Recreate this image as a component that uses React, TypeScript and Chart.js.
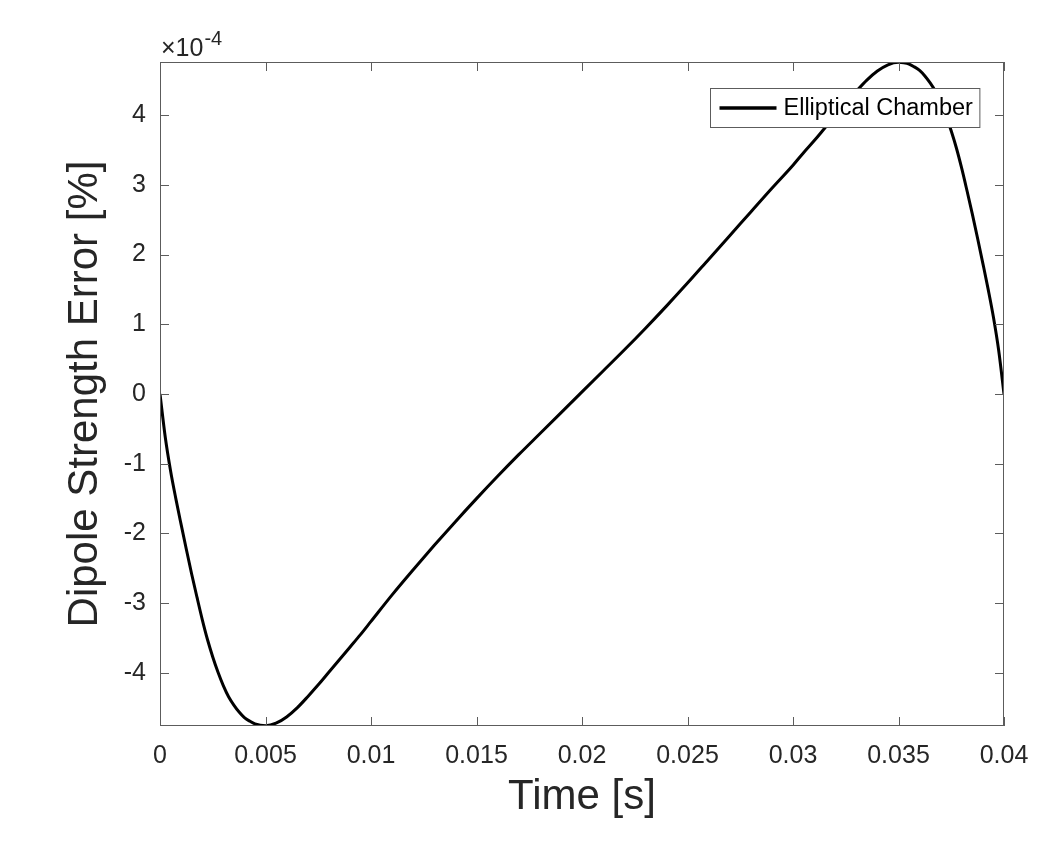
import React, { useEffect, useRef } from 'react';
import { Chart, registerables } from 'chart.js';

Chart.register(...registerables);

// ---- data (time in seconds, error in units of 1e-4 %) ----
const TIME_S = [
  0, 0.00025, 0.0005, 0.00075, 0.001, 0.00125, 0.0015, 0.00175, 0.002, 0.00225,
  0.0025, 0.00275, 0.003, 0.00325, 0.0035, 0.00375, 0.004, 0.00425, 0.0045, 0.00475,
  0.005, 0.0055, 0.006, 0.0065, 0.007, 0.0075, 0.008, 0.0085, 0.009, 0.0095,
  0.01, 0.011, 0.012, 0.013, 0.014, 0.015, 0.016, 0.017, 0.018, 0.019,
  0.02, 0.021, 0.022, 0.023, 0.024, 0.025, 0.026, 0.027, 0.028, 0.029,
  0.03, 0.0305, 0.031, 0.0315, 0.032, 0.0325, 0.033, 0.0335, 0.034, 0.0345,
  0.035, 0.03525, 0.0355, 0.03575, 0.036, 0.03625, 0.0365, 0.03675, 0.037, 0.03725,
  0.0375, 0.03775, 0.038, 0.03825, 0.0385, 0.03875, 0.039, 0.03925, 0.0395, 0.03975,
  0.04,
];
const ERROR_E4 = [
  0, -0.62, -1.1, -1.5, -1.87, -2.23, -2.58, -2.91, -3.23, -3.52,
  -3.77, -3.99, -4.18, -4.34, -4.46, -4.56, -4.64, -4.69, -4.73, -4.748,
  -4.755, -4.72, -4.63, -4.5, -4.34, -4.17, -3.99, -3.81, -3.63, -3.45,
  -3.26, -2.88, -2.52, -2.17, -1.83, -1.5, -1.18, -0.87, -0.57, -0.27,
  0.03, 0.33, 0.63, 0.94, 1.26, 1.59, 1.93, 2.27, 2.61, 2.95,
  3.28, 3.46, 3.63, 3.81, 3.99, 4.17, 4.34, 4.5, 4.63, 4.72,
  4.755, 4.748, 4.73, 4.69, 4.64, 4.56, 4.46, 4.34, 4.18, 3.99,
  3.77, 3.52, 3.23, 2.91, 2.58, 2.23, 1.87, 1.5, 1.1, 0.62,
  0,
];

const X_TICKS = [0, 0.005, 0.01, 0.015, 0.02, 0.025, 0.03, 0.035, 0.04];
const X_TICK_LABELS = ['0', '0.005', '0.01', '0.015', '0.02', '0.025', '0.03', '0.035', '0.04'];
const Y_TICKS = [-4, -3, -2, -1, 0, 1, 2, 3, 4];
const Y_TICK_LABELS = ['-4', '-3', '-2', '-1', '0', '1', '2', '3', '4'];
const X_MIN = 0;
const X_MAX = 0.04;
const Y_MIN = -4.76;
const Y_MAX = 4.76;
const EXPONENT = '-4';
const SERIES_LABEL = 'Elliptical Chamber';
const X_TITLE = 'Time [s]';
const Y_TITLE = 'Dipole Strength Error [%]';

const FONT = '"Liberation Sans", Arial, Helvetica, sans-serif';
const AXIS_COLOR = '#5c5c5c';
const TEXT_COLOR = '#262626';

const framePlugin = {
  id: 'matlabFrame',
  afterDatasetsDraw(chart: any) {
    const { ctx, chartArea: a, scales } = chart;
    const x = scales.x;
    const y = scales.y;
    ctx.save();
    ctx.strokeStyle = AXIS_COLOR;
    ctx.lineWidth = 1;
    ctx.strokeRect(a.left + 0.5, a.top + 0.5, a.right - a.left - 1, a.bottom - a.top - 1);
    const L = 9;
    ctx.beginPath();
    x.ticks.forEach((t: any) => {
      const px = Math.round(x.getPixelForValue(t.value)) + 0.5;
      ctx.moveTo(px, a.bottom);
      ctx.lineTo(px, a.bottom - L);
      ctx.moveTo(px, a.top);
      ctx.lineTo(px, a.top + L);
    });
    y.ticks.forEach((t: any) => {
      const py = Math.round(y.getPixelForValue(t.value)) + 0.5;
      ctx.moveTo(a.left, py);
      ctx.lineTo(a.left + L, py);
      ctx.moveTo(a.right, py);
      ctx.lineTo(a.right - L, py);
    });
    ctx.stroke();

    // exponent label
    ctx.fillStyle = TEXT_COLOR;
    ctx.textBaseline = 'alphabetic';
    ctx.textAlign = 'left';
    ctx.font = `25px ${FONT}`;
    const base = '\u00d710';
    ctx.fillText(base, a.left + 1, a.top - 6);
    const w = ctx.measureText(base).width;
    ctx.font = `20px ${FONT}`;
    ctx.fillText(EXPONENT, a.left + 1 + w + 1, a.top - 17);
    ctx.restore();
  },
  afterDraw(chart: any) {
    const { ctx, chartArea: a } = chart;
    const ds = chart.data.datasets[0];
    ctx.save();
    ctx.font = `23.5px ${FONT}`;
    const tw = ctx.measureText(ds.label).width;
    const lineLen = 57;
    const padL = 9;
    const gap = 7;
    const padR = 7;
    const h = 39;
    const w = padL + lineLen + gap + tw + padR;
    const bx = Math.round(a.right - 25 - w) + 0.5;
    const by = Math.round(a.top + 26) + 0.5;
    ctx.fillStyle = '#ffffff';
    ctx.fillRect(bx, by, w, h);
    ctx.strokeStyle = AXIS_COLOR;
    ctx.lineWidth = 1;
    ctx.strokeRect(bx, by, w, h);
    ctx.beginPath();
    ctx.strokeStyle = ds.borderColor;
    ctx.lineWidth = 3.5;
    ctx.moveTo(bx + padL, by + h / 2);
    ctx.lineTo(bx + padL + lineLen, by + h / 2);
    ctx.stroke();
    ctx.fillStyle = '#000000';
    ctx.textBaseline = 'middle';
    ctx.textAlign = 'left';
    ctx.fillText(ds.label, bx + padL + lineLen + gap, by + h / 2 + 1);
    ctx.restore();
  },
};

export default function App() {
  const canvasRef = useRef<HTMLCanvasElement | null>(null);

  useEffect(() => {
    if (!canvasRef.current) return;
    const points = TIME_S.map((t, i) => ({ x: t, y: ERROR_E4[i] }));
    const chart = new Chart(canvasRef.current, {
      type: 'line',
      data: {
        datasets: [
          {
            label: SERIES_LABEL,
            data: points,
            borderColor: '#000000',
            borderWidth: 3,
            pointRadius: 0,
            fill: false,
            cubicInterpolationMode: 'monotone',
          },
        ],
      },
      options: {
        animation: false,
        responsive: false,
        devicePixelRatio: 1,
        layout: { padding: { left: 0, top: 62, right: 52, bottom: 0 } },
        plugins: {
          legend: { display: false },
          tooltip: { enabled: false },
        },
        scales: {
          x: {
            type: 'linear',
            min: X_MIN,
            max: X_MAX,
            grid: { display: false, drawTicks: false },
            border: { display: false },
            afterBuildTicks: (scale: any) => {
              scale.ticks = X_TICKS.map((v) => ({ value: v }));
            },
            afterFit: (scale: any) => {
              scale.height = 121;
            },
            ticks: {
              autoSkip: false,
              maxRotation: 0,
              padding: 15,
              color: TEXT_COLOR,
              font: { family: FONT, size: 25 },
              callback: (value: any) => {
                const i = X_TICKS.findIndex((v) => Math.abs(v - Number(value)) < 1e-9);
                return i >= 0 ? X_TICK_LABELS[i] : '';
              },
            },
            title: {
              display: true,
              text: X_TITLE,
              color: TEXT_COLOR,
              font: { family: FONT, size: 42 },
              padding: { top: 0, bottom: 24 },
            },
          },
          y: {
            type: 'linear',
            min: Y_MIN,
            max: Y_MAX,
            grid: { display: false, drawTicks: false },
            border: { display: false },
            afterBuildTicks: (scale: any) => {
              scale.ticks = Y_TICKS.map((v) => ({ value: v }));
            },
            afterFit: (scale: any) => {
              scale.width = 160;
            },
            ticks: {
              autoSkip: false,
              padding: 14,
              color: TEXT_COLOR,
              font: { family: FONT, size: 25 },
              callback: (value: any) => {
                const i = Y_TICKS.findIndex((v) => Math.abs(v - Number(value)) < 1e-9);
                return i >= 0 ? Y_TICK_LABELS[i] : '';
              },
            },
            title: {
              display: true,
              text: Y_TITLE,
              color: TEXT_COLOR,
              font: { family: FONT, size: 42 },
              padding: { top: 60, bottom: 0 },
            },
          },
        },
      },
      plugins: [framePlugin],
    });
    return () => chart.destroy();
  }, []);

  return (
    <div style={{ position: 'fixed', left: 0, top: 0, width: 1056, height: 847, background: '#ffffff' }}>
      <canvas ref={canvasRef} width={1056} height={847} style={{ display: 'block' }} />
    </div>
  );
}
